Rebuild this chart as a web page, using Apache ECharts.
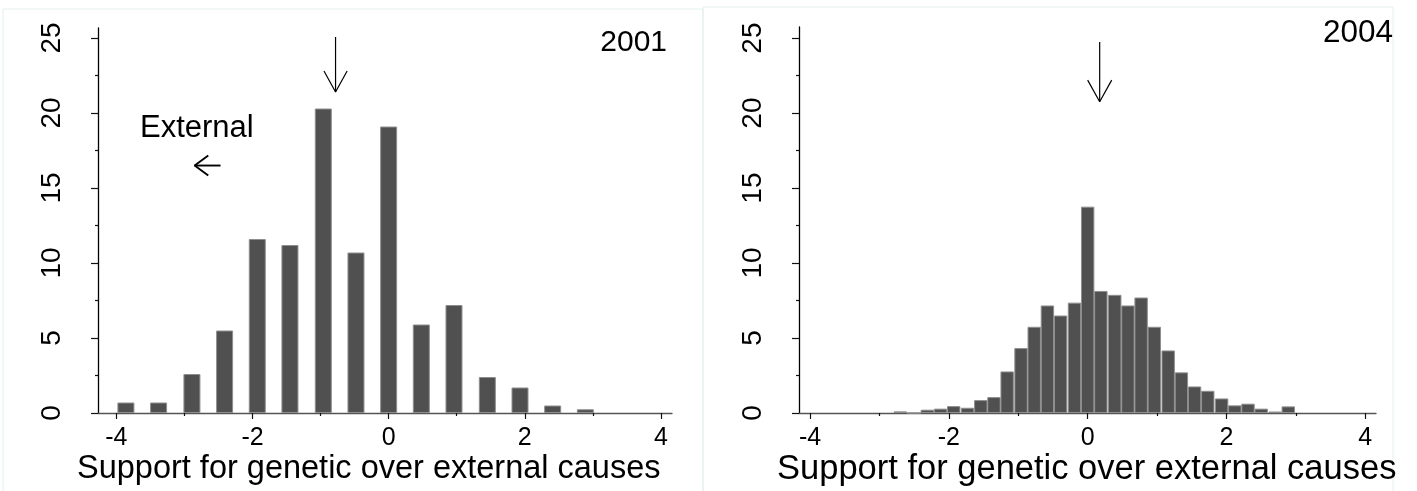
<!DOCTYPE html>
<html>
<head>
<meta charset="utf-8">
<script src="https://cdn.jsdelivr.net/npm/echarts@6/dist/echarts.min.js"></script>
<style>
html,body{margin:0;padding:0;background:#ffffff;}
#c{width:1417px;height:491px;}
</style>
</head>
<body>
<div id="c"></div>
<script>
// ---- data ----
const bins2001 = [-3.86, -3.38, -2.89, -2.41, -1.93, -1.45, -0.96, -0.48, 0, 0.48, 0.96, 1.45, 1.93, 2.41, 2.89];
const pct2001  = [0.7, 0.7, 2.6, 5.5, 11.6, 11.2, 20.3, 10.7, 19.1, 5.9, 7.2, 2.4, 1.7, 0.5, 0.25];

const bins2004 = [-2.70, -2.50, -2.31, -2.12, -1.93, -1.73, -1.54, -1.35, -1.16, -0.96, -0.77, -0.58, -0.39, -0.19,
                  0, 0.19, 0.39, 0.58, 0.77, 0.96, 1.16, 1.35, 1.54, 1.73, 1.93, 2.12, 2.31, 2.50, 2.70, 2.89];
const pct2004  = [0.11, 0, 0.22, 0.29, 0.46, 0.35, 0.86, 1.06, 2.77, 4.33, 5.75, 7.17, 6.5, 7.36,
                  13.76, 8.14, 7.88, 7.17, 7.7, 5.75, 4.17, 2.71, 1.77, 1.48, 0.97, 0.51, 0.62, 0.29, 0.1, 0.44];

const xLabelValues = [-4, -2, 0, 2, 4];
const xMinorValues = [-3, -1, 1, 3];
const yLabelValues = [0, 5, 10, 15, 20, 25];
const yMinorValues = [2.5, 7.5, 12.5, 17.5, 22.5];

const axisTitle = 'Support for genetic over external causes';
const yearLabels = ['2001', '2004'];
const sideLabel = 'External';

// mean arrows (data coordinates): [x, top, tip, wing y, wing half-width]
const meanArrow2001 = [-0.78, 25.07, 21.4, 22.8, 0.17];
const meanArrow2004 = [0.173, 24.74, 20.75, 22.2, 0.173];
// "External" left arrow: [tip x, tail x, y, wing dx, wing dy]
const extArrow = [-2.85, -2.47, 16.5, 0.2, 0.67];

// ---- chart ----
const FONT = 'Liberation Sans, Arial, Helvetica, sans-serif';
const chart = echarts.init(document.getElementById('c'), null, {renderer: 'canvas'});

const xRanges = [[-4.27, 4.163], [-4.159, 4.154]];
const yMaxes = [25.67, 25.74];

function xAxes(g) {
  return [
    {
      gridIndex: g, type: 'value', position: 'bottom',
      min: xRanges[g][0], max: xRanges[g][1],
      axisLine: {show: true, onZero: false, lineStyle: {color: '#555', width: 1.3}},
      axisTick: {show: true, customValues: xLabelValues, length: 6, lineStyle: {color: '#111', width: 1.2}},
      axisLabel: {show: true, customValues: xLabelValues, fontSize: 25, color: '#000', margin: 13, fontFamily: FONT},
      splitLine: {show: false}
    },
    {
      gridIndex: g, type: 'value', position: 'bottom',
      min: xRanges[g][0], max: xRanges[g][1],
      axisLine: {show: false, onZero: false},
      axisTick: {show: true, customValues: xMinorValues, length: 3, lineStyle: {color: '#111', width: 1.2}},
      axisLabel: {show: false},
      splitLine: {show: false}
    }
  ];
}
function yAxes(g) {
  return [
    {
      gridIndex: g, type: 'value', position: 'left',
      min: 0, max: yMaxes[g],
      axisLine: {show: true, onZero: false, lineStyle: {color: '#000', width: 1.3}},
      axisTick: {show: true, customValues: yLabelValues, length: 7, lineStyle: {color: '#111', width: 1.2}},
      axisLabel: {show: true, customValues: yLabelValues, rotate: 90, fontSize: 28, color: '#000', margin: 32, fontFamily: FONT},
      splitLine: {show: false}
    },
    {
      gridIndex: g, type: 'value', position: 'left',
      min: 0, max: yMaxes[g],
      axisLine: {show: false, onZero: false},
      axisTick: {show: true, customValues: yMinorValues, length: 3, lineStyle: {color: '#111', width: 1.2}},
      axisLabel: {show: false},
      splitLine: {show: false}
    }
  ];
}

function barSeries(xi, yi, bins, vals, w) {
  return {
    type: 'bar', xAxisIndex: xi, yAxisIndex: yi,
    data: bins.map((b, i) => [b, vals[i]]),
    barWidth: w,
    itemStyle: {color: '#505050', borderColor: '#8e8e8e', borderWidth: 1},
    silent: true, animation: false
  };
}
function lineSeries(xi, yi, pts, width) {
  return {
    type: 'line', xAxisIndex: xi, yAxisIndex: yi, data: pts,
    symbol: 'none', silent: true, animation: false, clip: false,
    lineStyle: {color: '#000', width: width}
  };
}
function meanArrowSeries(xi, yi, a) {
  const [x, top, tip, wy, dx] = a;
  return [
    lineSeries(xi, yi, [[x, top], [x, tip]], 1.2),
    lineSeries(xi, yi, [[x - dx, wy], [x, tip], [x + dx, wy]], 1.2)
  ];
}

const [etip, etail, ey, edx, edy] = extArrow;

const option = {
  animation: false,
  backgroundColor: '#ffffff',
  grid: [
    {left: 98, top: 28, width: 574, height: 385, containLabel: false, outerBoundsMode: 'none'},
    {left: 799, top: 27, width: 577, height: 386, containLabel: false, outerBoundsMode: 'none'}
  ],
  xAxis: [...xAxes(0), ...xAxes(1)],
  yAxis: [...yAxes(0), ...yAxes(1)],
  series: [
    barSeries(0, 0, bins2001, pct2001, 17),
    barSeries(2, 2, bins2004, pct2004, 13.4),
    ...meanArrowSeries(0, 0, meanArrow2001),
    ...meanArrowSeries(2, 2, meanArrow2004),
    lineSeries(0, 0, [[etail, ey], [etip, ey]], 1.9),
    lineSeries(0, 0, [[etip + edx, ey + edy], [etip, ey], [etip + edx, ey - edy]], 1.9)
  ],
  graphic: [
    {type: 'rect', shape: {x: 3, y: 9, width: 700, height: 490}, style: {fill: 'none', stroke: '#e4eeee', lineWidth: 1}, silent: true},
    {type: 'rect', shape: {x: 703, y: 7, width: 690, height: 490}, style: {fill: 'none', stroke: '#e4eeee', lineWidth: 1}, silent: true},
    {type: 'text', x: 140, y: 128, style: {text: sideLabel, font: '31px ' + FONT, fill: '#000', textAlign: 'left', verticalAlign: 'middle'}, silent: true},
    {type: 'text', x: 667, y: 43, style: {text: yearLabels[0], font: '30px ' + FONT, fill: '#000', textAlign: 'right', verticalAlign: 'middle'}, silent: true},
    {type: 'text', x: 1393, y: 33, style: {text: yearLabels[1], font: '31.5px ' + FONT, fill: '#000', textAlign: 'right', verticalAlign: 'middle'}, silent: true},
    {type: 'text', x: 77, y: 469, style: {text: axisTitle, font: '32.5px ' + FONT, fill: '#000', textAlign: 'left', verticalAlign: 'middle'}, silent: true},
    {type: 'text', x: 777, y: 469, style: {text: axisTitle, font: '34.5px ' + FONT, fill: '#000', textAlign: 'left', verticalAlign: 'middle'}, silent: true}
  ]
};
chart.setOption(option);
</script>
</body>
</html>
